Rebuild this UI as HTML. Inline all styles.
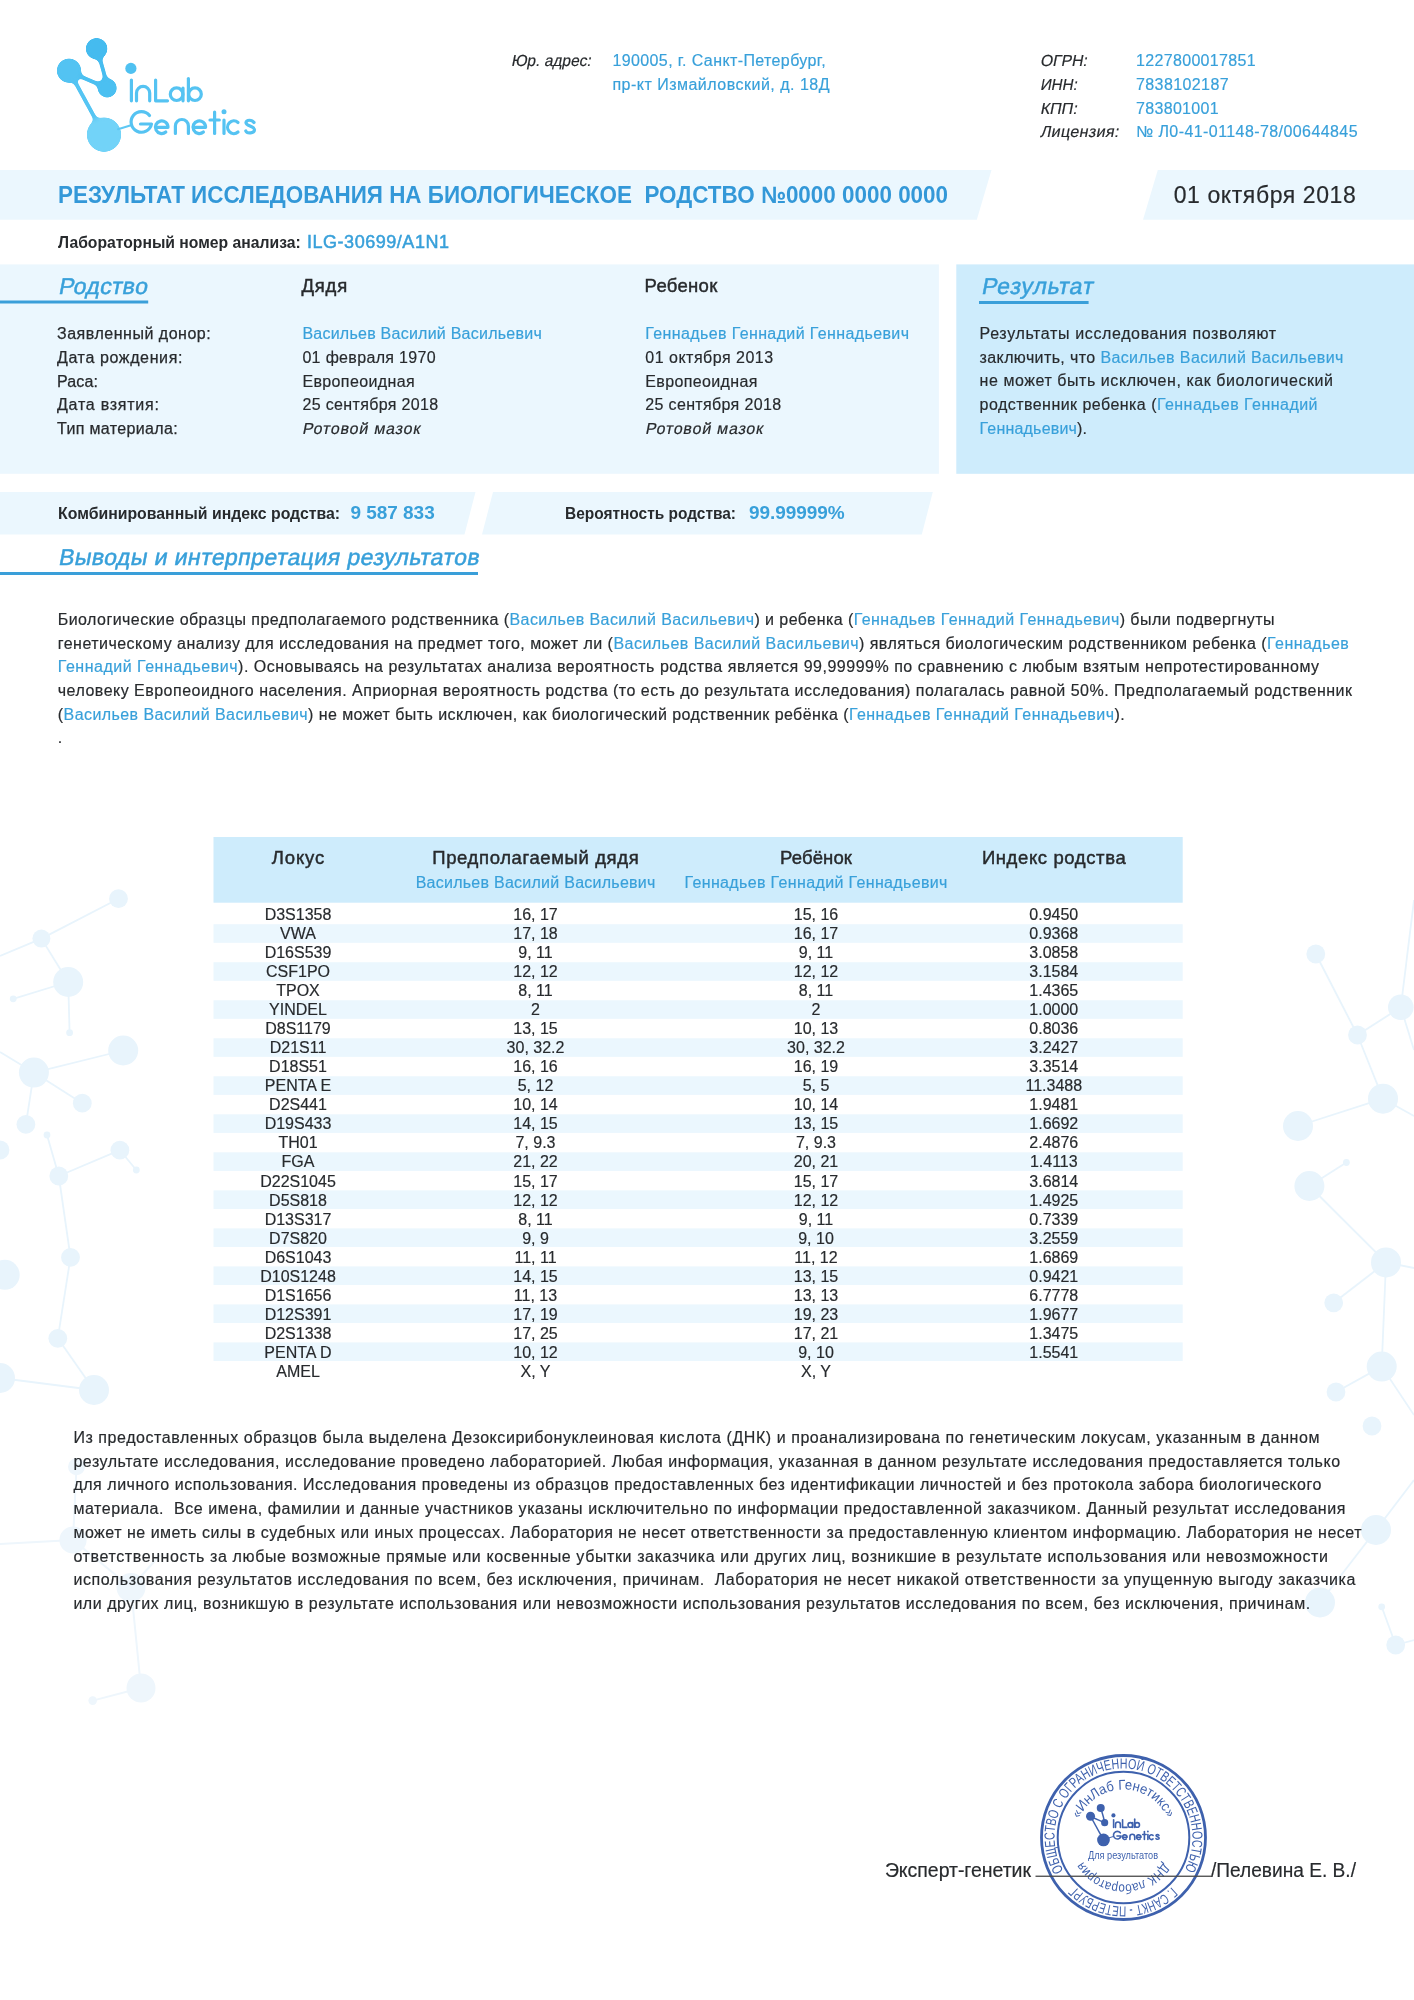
<!DOCTYPE html>
<html><head><meta charset="utf-8"><title>InLab Genetics</title>
<style>
html,body{margin:0;padding:0;background:#fff}
body{width:1414px;height:2000px;position:relative;overflow:hidden;font-family:"Liberation Sans",sans-serif}
.t{position:absolute;white-space:nowrap}
#tx{position:absolute;left:0;top:0;width:1414px;height:2000px;will-change:transform}
.b{color:#38a0da;-webkit-text-stroke-color:#38a0da}
.s{position:absolute}
</style></head><body>
<svg class="s" style="left:0;top:0" width="1414" height="2000" viewBox="0 0 1414 2000">
<!-- background molecules right -->
<g stroke="#e8f4fc" stroke-width="1.8" fill="none">
<polyline points="1315.8,954 1357.5,1035 1383,1098.7"/>
<line x1="1357.5" y1="1035" x2="1400.8" y2="1007.3"/>
<line x1="1400.8" y1="1007.3" x2="1414" y2="900"/>
<line x1="1400.8" y1="1007.3" x2="1414" y2="1050"/>
<line x1="1298" y1="1126" x2="1383" y2="1098.7"/>
<line x1="1383" y1="1098.7" x2="1414" y2="1116"/>
<line x1="1309.4" y1="1186" x2="1346.4" y2="1162.5"/>
<line x1="1309.4" y1="1186" x2="1386" y2="1262.4"/>
<line x1="1386" y1="1262.4" x2="1414" y2="1268"/>
<line x1="1333.7" y1="1302.8" x2="1386" y2="1262.4"/>
<line x1="1386" y1="1262.4" x2="1381.7" y2="1366.6"/>
<line x1="1381.7" y1="1366.6" x2="1336" y2="1392"/>
<line x1="1381.7" y1="1366.6" x2="1414" y2="1415"/>
<line x1="1376" y1="1530" x2="1414" y2="1480"/>
<line x1="1376" y1="1530" x2="1320" y2="1602.5"/>
<line x1="1381.7" y1="1606.8" x2="1395.7" y2="1645"/>
<line x1="1395.7" y1="1645" x2="1414" y2="1640"/>
</g>
<g fill="#e8f4fc">
<circle cx="1315.8" cy="954" r="9.4"/>
<circle cx="1400.8" cy="1007.3" r="12.8"/>
<circle cx="1357.5" cy="1035" r="9.4"/>
<circle cx="1383" cy="1098.7" r="15"/>
<circle cx="1298" cy="1126" r="15"/>
<circle cx="1309.4" cy="1186" r="15"/>
<circle cx="1346.4" cy="1162.5" r="3.4"/>
<circle cx="1386" cy="1262.4" r="15"/>
<circle cx="1333.7" cy="1302.8" r="9.4"/>
<circle cx="1381.7" cy="1366.6" r="15"/>
<circle cx="1336" cy="1392" r="9.4"/>
<circle cx="1372" cy="1426" r="9.4"/>
<circle cx="1376" cy="1530" r="15"/>
<circle cx="1320" cy="1602.5" r="15"/>
<circle cx="1381.7" cy="1606.8" r="3.4"/>
<circle cx="1395.7" cy="1645" r="9.4"/>
</g>
<!-- background molecules left -->
<g stroke="#e8f4fc" stroke-width="1.8" fill="none">
<line x1="118.5" y1="898.7" x2="41.4" y2="938.6"/>
<line x1="41.4" y1="938.6" x2="0" y2="956"/>
<line x1="41.4" y1="938.6" x2="68.2" y2="982"/>
<line x1="68.2" y1="982" x2="13.2" y2="998.8"/>
<line x1="68.2" y1="982" x2="69.6" y2="1032.7"/>
<line x1="123.2" y1="1050.5" x2="33.9" y2="1072.6"/>
<line x1="33.9" y1="1072.6" x2="0" y2="1052"/>
<line x1="33.9" y1="1072.6" x2="82.3" y2="1103.2"/>
<line x1="33.9" y1="1072.6" x2="25.9" y2="1124.4"/>
<line x1="47" y1="1135" x2="58.8" y2="1176"/>
<line x1="119.9" y1="1150.2" x2="58.8" y2="1176"/>
<line x1="119.9" y1="1150.2" x2="136.3" y2="1170"/>
<line x1="58.8" y1="1176" x2="70.5" y2="1257.4"/>
<line x1="70.5" y1="1257.4" x2="57.8" y2="1338.3"/>
<line x1="57.8" y1="1338.3" x2="94" y2="1390"/>
<line x1="0" y1="1378" x2="94" y2="1390"/>
</g>
<g fill="#e8f4fc">
<circle cx="118.5" cy="898.7" r="9.4"/>
<circle cx="41.4" cy="938.6" r="9"/>
<circle cx="68.2" cy="982" r="15"/>
<circle cx="13.2" cy="998.8" r="3.4"/>
<circle cx="69.6" cy="1032.7" r="3.4"/>
<circle cx="123.2" cy="1050.5" r="15"/>
<circle cx="33.9" cy="1072.6" r="15"/>
<circle cx="82.3" cy="1103.2" r="9.4"/>
<circle cx="25.9" cy="1124.4" r="9.4"/>
<circle cx="0" cy="1150" r="9.4"/>
<circle cx="47" cy="1135" r="3.4"/>
<circle cx="119.9" cy="1150.2" r="9.4"/>
<circle cx="136.3" cy="1170" r="3.4"/>
<circle cx="58.8" cy="1176" r="9.4"/>
<circle cx="70.5" cy="1257.4" r="9.4"/>
<circle cx="4.7" cy="1274.8" r="15"/>
<circle cx="57.8" cy="1338.3" r="9.4"/>
<circle cx="0" cy="1378" r="15"/>
<circle cx="94" cy="1390" r="15"/>
</g>
<g stroke="#eef6fc" stroke-width="2" fill="none">
<line x1="76.5" y1="1466.7" x2="73" y2="1540"/>
<line x1="0" y1="1544" x2="73" y2="1540"/>
<line x1="73" y1="1540" x2="131" y2="1587.5"/>
<line x1="131" y1="1587.5" x2="160" y2="1555"/>
<line x1="131" y1="1587.5" x2="141" y2="1688"/>
<line x1="141" y1="1688" x2="92.7" y2="1700.6"/>
</g>
<g fill="#eef6fc">
<circle cx="76.5" cy="1466.7" r="8.5"/>
<circle cx="73" cy="1540" r="13.6"/>
<circle cx="131" cy="1587.5" r="14.5"/>
<circle cx="141" cy="1688" r="14.5"/>
<circle cx="92.7" cy="1700.6" r="4.3"/>
</g>
<!-- logo -->
<defs><filter id="goo" x="-20%" y="-20%" width="140%" height="140%"><feGaussianBlur in="SourceGraphic" stdDeviation="2.2" result="b"/><feColorMatrix in="b" type="matrix" values="1 0 0 0 0  0 1 0 0 0  0 0 1 0 0  0 0 0 9 -3.8" result="g"/></filter></defs>
<g filter="url(#goo)">
<path d="M96.6,48.7 C100,60 104,70 107.2,88" stroke="#47bdf0" stroke-width="4" fill="none"/>
<path d="M69,70.7 C80,77 92,81 107.2,88" stroke="#4cc0f1" stroke-width="4" fill="none"/>
<line x1="69" y1="70.7" x2="104" y2="134.7" stroke="#55c5f3" stroke-width="4"/>
<circle cx="96.6" cy="48.7" r="10.8" fill="#45bbef"/>
<circle cx="69" cy="70.7" r="12.2" fill="#52c3f2"/>
<circle cx="107.2" cy="88" r="9.7" fill="#4cc0f1"/>
<circle cx="104" cy="134.7" r="17.2" fill="#72d3f8"/>
</g>
<line x1="118" y1="129.3" x2="131" y2="125.3" stroke="#5ec8f4" stroke-width="2" stroke-linecap="round"/>
<circle cx="130.9" cy="68.4" r="5.6" fill="#4fc1f1"/>
<g stroke="#55c3f2" stroke-width="3.2" stroke-linecap="round" stroke-linejoin="round" fill="none">
<!-- I -->
<line x1="131.4" y1="80" x2="131.4" y2="100.8"/>
<!-- n -->
<path d="M136.5,100.8 V93 A6.6,6.6 0 0 1 149.7,93 V100.8"/>
<!-- L -->
<path d="M155.6,80 V100.8 H167.5"/>
<!-- a -->
<circle cx="176.6" cy="94.2" r="6.3"/>
<line x1="183" y1="88" x2="183" y2="100.8"/>
<!-- b -->
<line x1="188.4" y1="78.5" x2="188.4" y2="100.8"/>
<circle cx="195" cy="94.2" r="6.3"/>
<!-- G -->
<path d="M149.5,115.5 A10.3,10.3 0 1 0 151.5,124 H140.5"/>
<!-- e -->
<path d="M155.4,127.3 H168 A6.3,6.3 0 1 0 165.8,132"/>
<!-- n -->
<path d="M175.4,133.5 V126 A6.5,6.5 0 0 1 188.4,126 V133.5"/>
<!-- e -->
<path d="M193,127.3 H205.6 A6.3,6.3 0 1 0 203.4,132"/>
<!-- t -->
<line x1="214.6" y1="112" x2="214.6" y2="133.5"/>
<line x1="210" y1="120" x2="219.3" y2="120"/>
<!-- i -->
<line x1="224" y1="120" x2="224" y2="133.5"/>
<!-- c -->
<path d="M238,122.5 A6.3,6.3 0 1 0 238,132"/>
<!-- s -->
<path d="M254,122.5 C252,119.5 246.5,119.5 246,122.5 C245.5,126 254.5,126 254.5,129.8 C254.5,133.5 247,134 245.8,131"/>
</g>
<circle cx="224" cy="111.8" r="2.5" fill="#55c3f2"/>

<defs>
<path id="sp1" d="M1071.03,1881.53 A68.5,68.5 0 1 1 1175.97,1793.47 A68.5,68.5 0 1 1 1071.03,1881.53"/>
<path id="sp2" d="M1075.50,1837.50 A48,48 0 1 1 1171.50,1837.50 A48,48 0 1 1 1075.50,1837.50"/>
<path id="sp3" d="M1170.50,1837.50 A47,47 0 1 1 1076.50,1837.50 A47,47 0 1 1 1170.50,1837.50"/>
</defs>
<g opacity="0.95">
<circle cx="1123.5" cy="1837.5" r="82" fill="none" stroke="#3459a9" stroke-width="2.8"/>
<circle cx="1123.5" cy="1837.5" r="65.8" fill="none" stroke="#3459a9" stroke-width="2"/>
<g font-family="Liberation Sans" fill="#3459a9">
<text font-size="14.5"><textPath href="#sp1" startOffset="13.15" textLength="284.54" lengthAdjust="spacingAndGlyphs">ОБЩЕСТВО С ОГРАНИЧЕННОЙ ОТВЕТСТВЕННОСТЬЮ</textPath></text>
<text font-size="14.5"><textPath href="#sp1" startOffset="319.21" textLength="107.60" lengthAdjust="spacingAndGlyphs">Г. САНКТ - ПЕТЕРБУРГ</textPath></text>
<text font-size="14"><textPath href="#sp2" startOffset="19.27" textLength="111.42" lengthAdjust="spacingAndGlyphs">«ИнЛаб Генетикс»</textPath></text>
<text font-size="13.5"><textPath href="#sp3" startOffset="26.25" textLength="95.98" lengthAdjust="spacingAndGlyphs">ДНК лаборатория</textPath></text>
<text x="1123.0" y="1859" font-size="10" font-weight="400" text-anchor="middle" textLength="70" lengthAdjust="spacingAndGlyphs">Для результатов</text>
</g>
<g transform="translate(1065,1790.1) scale(0.37)">
<!-- logo -->

<g>
<path d="M96.6,48.7 C100,60 104,70 107.2,88" stroke="#3459a9" stroke-width="4" fill="none"/>
<path d="M69,70.7 C80,77 92,81 107.2,88" stroke="#3459a9" stroke-width="4" fill="none"/>
<line x1="69" y1="70.7" x2="104" y2="134.7" stroke="#3459a9" stroke-width="4"/>
<circle cx="96.6" cy="48.7" r="10.8" fill="#3459a9"/>
<circle cx="69" cy="70.7" r="12.2" fill="#3459a9"/>
<circle cx="107.2" cy="88" r="9.7" fill="#3459a9"/>
<circle cx="104" cy="134.7" r="17.2" fill="#3459a9"/>
</g>
<line x1="118" y1="129.3" x2="131" y2="125.3" stroke="#3459a9" stroke-width="2.70" stroke-linecap="round"/>
<circle cx="130.9" cy="68.4" r="5.6" fill="#3459a9"/>
<g stroke="#3459a9" stroke-width="4.32" stroke-linecap="round" stroke-linejoin="round" fill="none">
<!-- I -->
<line x1="131.4" y1="80" x2="131.4" y2="100.8"/>
<!-- n -->
<path d="M136.5,100.8 V93 A6.6,6.6 0 0 1 149.7,93 V100.8"/>
<!-- L -->
<path d="M155.6,80 V100.8 H167.5"/>
<!-- a -->
<circle cx="176.6" cy="94.2" r="6.3"/>
<line x1="183" y1="88" x2="183" y2="100.8"/>
<!-- b -->
<line x1="188.4" y1="78.5" x2="188.4" y2="100.8"/>
<circle cx="195" cy="94.2" r="6.3"/>
<!-- G -->
<path d="M149.5,115.5 A10.3,10.3 0 1 0 151.5,124 H140.5"/>
<!-- e -->
<path d="M155.4,127.3 H168 A6.3,6.3 0 1 0 165.8,132"/>
<!-- n -->
<path d="M175.4,133.5 V126 A6.5,6.5 0 0 1 188.4,126 V133.5"/>
<!-- e -->
<path d="M193,127.3 H205.6 A6.3,6.3 0 1 0 203.4,132"/>
<!-- t -->
<line x1="214.6" y1="112" x2="214.6" y2="133.5"/>
<line x1="210" y1="120" x2="219.3" y2="120"/>
<!-- i -->
<line x1="224" y1="120" x2="224" y2="133.5"/>
<!-- c -->
<path d="M238,122.5 A6.3,6.3 0 1 0 238,132"/>
<!-- s -->
<path d="M254,122.5 C252,119.5 246.5,119.5 246,122.5 C245.5,126 254.5,126 254.5,129.8 C254.5,133.5 247,134 245.8,131"/>
</g>
<circle cx="224" cy="111.8" r="2.5" fill="#3459a9"/>

</g>
</g>
</svg>

<svg class="s" style="left:0;top:0" width="1414" height="2000" viewBox="0 0 1414 2000">
<polygon points="0,170 991.5,170 976.8,219.7 0,219.7" fill="#ebf7fe"/>
<polygon points="1157.8,170 1414,170 1414,219.7 1143,219.7" fill="#ebf7fe"/>
<rect x="0" y="264.4" width="938.9" height="209.4" fill="#ebf7fe"/>
<rect x="956.3" y="264.4" width="457.7" height="209.4" fill="#ceecfc"/>
<rect x="0" y="300.5" width="148.2" height="3" fill="#3a9fd9"/>
<rect x="979" y="301" width="109.6" height="3" fill="#3a9fd9"/>
<polygon points="0,492 475.5,492 464.5,534.6 0,534.6" fill="#ebf7fe"/>
<polygon points="493,492 932.8,492 921.8,534.6 482,534.6" fill="#ebf7fe"/>
<rect x="0" y="572" width="478" height="3" fill="#3a9fd9"/>
<rect x="213.5" y="837" width="969.2" height="65.7" fill="#ceecfc"/>

<rect x="213.5" y="924.21" width="969.2" height="18.6" fill="#ebf7fe"/>
<rect x="213.5" y="962.23" width="969.2" height="18.6" fill="#ebf7fe"/>
<rect x="213.5" y="1000.25" width="969.2" height="18.6" fill="#ebf7fe"/>
<rect x="213.5" y="1038.27" width="969.2" height="18.6" fill="#ebf7fe"/>
<rect x="213.5" y="1076.29" width="969.2" height="18.6" fill="#ebf7fe"/>
<rect x="213.5" y="1114.31" width="969.2" height="18.6" fill="#ebf7fe"/>
<rect x="213.5" y="1152.33" width="969.2" height="18.6" fill="#ebf7fe"/>
<rect x="213.5" y="1190.35" width="969.2" height="18.6" fill="#ebf7fe"/>
<rect x="213.5" y="1228.37" width="969.2" height="18.6" fill="#ebf7fe"/>
<rect x="213.5" y="1266.39" width="969.2" height="18.6" fill="#ebf7fe"/>
<rect x="213.5" y="1304.41" width="969.2" height="18.6" fill="#ebf7fe"/>
<rect x="213.5" y="1342.43" width="969.2" height="18.6" fill="#ebf7fe"/>
<rect x="1035.5" y="1875.6" width="175.5" height="1.3" fill="#4a4a4a"/>
</svg>

<div id="tx">
<div class='t' style='left:511.00px;top:53.06px;line-height:16px;transform:scaleX(0.9704) skewX(-11deg);transform-origin:0 12.64px;font-size:16px;font-weight:400;-webkit-text-stroke:0.18px #272a2d;font-style:normal;color:#272a2d;letter-spacing:0.000px;'>Юр. адрес:</div>
<div class='t' style='left:612.40px;top:53.06px;line-height:16px;font-size:16px;font-weight:400;-webkit-text-stroke:0.18px #38a0da;font-style:normal;color:#38a0da;letter-spacing:0.391px;'>190005, г. Санкт-Петербург,</div>
<div class='t' style='left:612.40px;top:76.56px;line-height:16px;font-size:16px;font-weight:400;-webkit-text-stroke:0.18px #38a0da;font-style:normal;color:#38a0da;letter-spacing:0.489px;'>пр-кт Измайловский, д. 18Д</div>
<div class='t' style='left:1040.00px;top:53.26px;line-height:16px;transform:scaleX(0.9836) skewX(-11deg);transform-origin:0 12.64px;font-size:16px;font-weight:400;-webkit-text-stroke:0.18px #272a2d;font-style:normal;color:#272a2d;letter-spacing:0.000px;'>ОГРН:</div>
<div class='t' style='left:1136.00px;top:53.26px;line-height:16px;font-size:16px;font-weight:400;-webkit-text-stroke:0.18px #38a0da;font-style:normal;color:#38a0da;letter-spacing:0.332px;'>1227800017851</div>
<div class='t' style='left:1040.00px;top:76.94px;line-height:16px;transform:scaleX(0.9472) skewX(-11deg);transform-origin:0 12.64px;font-size:16px;font-weight:400;-webkit-text-stroke:0.18px #272a2d;font-style:normal;color:#272a2d;letter-spacing:0.000px;'>ИНН:</div>
<div class='t' style='left:1136.00px;top:76.94px;line-height:16px;font-size:16px;font-weight:400;-webkit-text-stroke:0.18px #38a0da;font-style:normal;color:#38a0da;letter-spacing:0.402px;'>7838102187</div>
<div class='t' style='left:1040.00px;top:100.62px;line-height:16px;transform:skewX(-11deg);transform-origin:0 12.64px;font-size:16px;font-weight:400;-webkit-text-stroke:0.18px #272a2d;font-style:normal;color:#272a2d;letter-spacing:0.059px;'>КПП:</div>
<div class='t' style='left:1136.00px;top:100.62px;line-height:16px;font-size:16px;font-weight:400;-webkit-text-stroke:0.18px #38a0da;font-style:normal;color:#38a0da;letter-spacing:0.323px;'>783801001</div>
<div class='t' style='left:1040.00px;top:124.30px;line-height:16px;transform:skewX(-11deg);transform-origin:0 12.64px;font-size:16px;font-weight:400;-webkit-text-stroke:0.18px #272a2d;font-style:normal;color:#272a2d;letter-spacing:0.384px;'>Лицензия:</div>
<div class='t' style='left:1136.00px;top:124.30px;line-height:16px;font-size:16px;font-weight:400;-webkit-text-stroke:0.18px #38a0da;font-style:normal;color:#38a0da;letter-spacing:0.419px;'>№ Л0-41-01148-78/00644845</div>
<div class='t' style='left:58.00px;top:182.98px;line-height:24px;transform:scaleX(0.9346);transform-origin:0 19.42px;font-size:24px;font-weight:700;font-style:normal;color:#3398d8;letter-spacing:0.000px;'>РЕЗУЛЬТАТ ИССЛЕДОВАНИЯ НА БИОЛОГИЧЕСКОЕ&nbsp; РОДСТВО №0000 0000 0000</div>
<div class='t' style='left:1173.70px;top:183.73px;line-height:23px;font-size:23px;font-weight:400;-webkit-text-stroke:0.18px #272a2d;font-style:normal;color:#272a2d;letter-spacing:0.594px;'>01 октября 2018</div>
<div class='t' style='left:58.30px;top:234.66px;line-height:16px;transform:scaleX(0.9816);transform-origin:0 12.64px;font-size:16px;font-weight:700;font-style:normal;color:#272a2d;letter-spacing:0.000px;'>Лабораторный номер анализа:</div>
<div class='t' style='left:307.00px;top:232.96px;line-height:18px;font-size:18px;font-weight:400;-webkit-text-stroke:0.5px #38a0da;font-style:normal;color:#38a0da;letter-spacing:0.529px;'>ILG-30699/A1N1</div>
<div class='t' style='left:57.70px;top:275.43px;line-height:23px;transform:skewX(-11deg);transform-origin:0 18.57px;font-size:23px;font-weight:400;-webkit-text-stroke:0.5px #38a0da;font-style:normal;color:#38a0da;letter-spacing:0.325px;'>Родство</div>
<div class='t' style='left:301.50px;top:277.44px;line-height:18.5px;font-size:18.5px;font-weight:400;-webkit-text-stroke:0.45px #272a2d;font-style:normal;color:#272a2d;letter-spacing:0.785px;'>Дядя</div>
<div class='t' style='left:644.60px;top:277.44px;line-height:18.5px;font-size:18.5px;font-weight:400;-webkit-text-stroke:0.45px #272a2d;font-style:normal;color:#272a2d;letter-spacing:0.301px;'>Ребенок</div>
<div class='t' style='left:57.00px;top:326.46px;line-height:16px;font-size:16px;font-weight:400;-webkit-text-stroke:0.25px #272a2d;font-style:normal;color:#272a2d;letter-spacing:0.514px;'>Заявленный донор:</div>
<div class='t' style='left:57.00px;top:350.06px;line-height:16px;font-size:16px;font-weight:400;-webkit-text-stroke:0.25px #272a2d;font-style:normal;color:#272a2d;letter-spacing:0.621px;'>Дата рождения:</div>
<div class='t' style='left:57.00px;top:373.76px;line-height:16px;font-size:16px;font-weight:400;-webkit-text-stroke:0.25px #272a2d;font-style:normal;color:#272a2d;letter-spacing:0.142px;'>Раса:</div>
<div class='t' style='left:57.00px;top:397.46px;line-height:16px;font-size:16px;font-weight:400;-webkit-text-stroke:0.25px #272a2d;font-style:normal;color:#272a2d;letter-spacing:0.752px;'>Дата взятия:</div>
<div class='t' style='left:57.00px;top:421.16px;line-height:16px;font-size:16px;font-weight:400;-webkit-text-stroke:0.25px #272a2d;font-style:normal;color:#272a2d;letter-spacing:0.348px;'>Тип материала:</div>
<div class='t' style='left:302.40px;top:326.46px;line-height:16px;font-size:16px;font-weight:400;-webkit-text-stroke:0.18px #38a0da;font-style:normal;color:#38a0da;letter-spacing:0.243px;'>Васильев Василий Васильевич</div>
<div class='t' style='left:302.40px;top:350.06px;line-height:16px;font-size:16px;font-weight:400;-webkit-text-stroke:0.18px #272a2d;font-style:normal;color:#272a2d;letter-spacing:0.331px;'>01 февраля 1970</div>
<div class='t' style='left:302.40px;top:373.76px;line-height:16px;font-size:16px;font-weight:400;-webkit-text-stroke:0.18px #272a2d;font-style:normal;color:#272a2d;letter-spacing:0.374px;'>Европеоидная</div>
<div class='t' style='left:302.40px;top:397.46px;line-height:16px;font-size:16px;font-weight:400;-webkit-text-stroke:0.18px #272a2d;font-style:normal;color:#272a2d;letter-spacing:0.352px;'>25 сентября 2018</div>
<div class='t' style='left:302.40px;top:421.16px;line-height:16px;transform:skewX(-11deg);transform-origin:0 12.64px;font-size:16px;font-weight:400;-webkit-text-stroke:0.18px #272a2d;font-style:normal;color:#272a2d;letter-spacing:0.805px;'>Ротовой мазок</div>
<div class='t' style='left:645.30px;top:326.46px;line-height:16px;font-size:16px;font-weight:400;-webkit-text-stroke:0.18px #38a0da;font-style:normal;color:#38a0da;letter-spacing:0.380px;'>Геннадьев Геннадий Геннадьевич</div>
<div class='t' style='left:645.30px;top:350.06px;line-height:16px;font-size:16px;font-weight:400;-webkit-text-stroke:0.18px #272a2d;font-style:normal;color:#272a2d;letter-spacing:0.493px;'>01 октября 2013</div>
<div class='t' style='left:645.30px;top:373.76px;line-height:16px;font-size:16px;font-weight:400;-webkit-text-stroke:0.18px #272a2d;font-style:normal;color:#272a2d;letter-spacing:0.358px;'>Европеоидная</div>
<div class='t' style='left:645.30px;top:397.46px;line-height:16px;font-size:16px;font-weight:400;-webkit-text-stroke:0.18px #272a2d;font-style:normal;color:#272a2d;letter-spacing:0.346px;'>25 сентября 2018</div>
<div class='t' style='left:645.30px;top:421.16px;line-height:16px;transform:skewX(-11deg);transform-origin:0 12.64px;font-size:16px;font-weight:400;-webkit-text-stroke:0.18px #272a2d;font-style:normal;color:#272a2d;letter-spacing:0.782px;'>Ротовой мазок</div>
<div class='t' style='left:980.50px;top:275.43px;line-height:23px;transform:skewX(-11deg);transform-origin:0 18.57px;font-size:23px;font-weight:400;-webkit-text-stroke:0.5px #38a0da;font-style:normal;color:#38a0da;letter-spacing:0.843px;'>Результат</div>
<div class='t' style='left:979.60px;top:326.06px;line-height:16px;font-size:16px;font-weight:400;-webkit-text-stroke:0.18px #272a2d;font-style:normal;color:#272a2d;letter-spacing:0.626px;'>Результаты исследования позволяют</div>
<div class='t' style='left:979.60px;top:349.66px;line-height:16px;font-size:16px;font-weight:400;-webkit-text-stroke:0.18px #272a2d;font-style:normal;color:#272a2d;letter-spacing:0.381px;'>заключить, что <span class="b">Васильев Василий Васильевич</span></div>
<div class='t' style='left:979.60px;top:373.36px;line-height:16px;font-size:16px;font-weight:400;-webkit-text-stroke:0.18px #272a2d;font-style:normal;color:#272a2d;letter-spacing:0.553px;'>не может быть исключен, как биологический</div>
<div class='t' style='left:979.60px;top:397.06px;line-height:16px;font-size:16px;font-weight:400;-webkit-text-stroke:0.18px #272a2d;font-style:normal;color:#272a2d;letter-spacing:0.456px;'>родственник ребенка (<span class="b">Геннадьев Геннадий</span></div>
<div class='t' style='left:979.60px;top:420.76px;line-height:16px;font-size:16px;font-weight:400;-webkit-text-stroke:0.18px #272a2d;font-style:normal;color:#272a2d;letter-spacing:0.186px;'><span class="b">Геннадьевич</span>).</div>
<div class='t' style='left:57.90px;top:505.86px;line-height:16px;transform:scaleX(0.9896);transform-origin:0 12.64px;font-size:16px;font-weight:700;font-style:normal;color:#272a2d;letter-spacing:0.000px;'>Комбинированный индекс родства:</div>
<div class='t' style='left:350.40px;top:503.32px;line-height:19px;font-size:19px;font-weight:700;font-style:normal;color:#38a0da;letter-spacing:-0.026px;'>9 587 833</div>
<div class='t' style='left:565.00px;top:505.86px;line-height:16px;transform:scaleX(0.9657);transform-origin:0 12.64px;font-size:16px;font-weight:700;font-style:normal;color:#272a2d;letter-spacing:0.000px;'>Вероятность родства:</div>
<div class='t' style='left:749.00px;top:503.32px;line-height:19px;font-size:19px;font-weight:700;font-style:normal;color:#38a0da;letter-spacing:-0.062px;'>99.99999%</div>
<div class='t' style='left:57.60px;top:545.83px;line-height:23px;transform:skewX(-11deg);transform-origin:0 18.57px;font-size:23px;font-weight:400;-webkit-text-stroke:0.5px #38a0da;font-style:normal;color:#38a0da;letter-spacing:0.434px;'>Выводы и интерпретация результатов</div>
<div class='t' style='left:57.80px;top:612.16px;line-height:16px;font-size:16px;font-weight:400;-webkit-text-stroke:0.18px #272a2d;font-style:normal;color:#272a2d;letter-spacing:0.442px;'>Биологические образцы предполагаемого родственника (<span class="b">Васильев Василий Васильевич</span>) и ребенка (<span class="b">Геннадьев Геннадий Геннадьевич</span>) были подвергнуты</div>
<div class='t' style='left:57.80px;top:635.76px;line-height:16px;font-size:16px;font-weight:400;-webkit-text-stroke:0.18px #272a2d;font-style:normal;color:#272a2d;letter-spacing:0.465px;'>генетическому анализу для исследования на предмет того, может ли (<span class="b">Васильев Василий Васильевич</span>) являться биологическим родственником ребенка (<span class="b">Геннадьев</span></div>
<div class='t' style='left:57.80px;top:659.36px;line-height:16px;font-size:16px;font-weight:400;-webkit-text-stroke:0.18px #272a2d;font-style:normal;color:#272a2d;letter-spacing:0.506px;'><span class="b">Геннадий Геннадьевич</span>). Основываясь на результатах анализа вероятность родства является 99,99999% по сравнению с любым взятым непротестированному</div>
<div class='t' style='left:57.80px;top:682.96px;line-height:16px;font-size:16px;font-weight:400;-webkit-text-stroke:0.18px #272a2d;font-style:normal;color:#272a2d;letter-spacing:0.483px;'>человеку Европеоидного населения. Априорная вероятность родства (то есть до результата исследования) полагалась равной 50%. Предполагаемый родственник</div>
<div class='t' style='left:57.80px;top:706.56px;line-height:16px;font-size:16px;font-weight:400;-webkit-text-stroke:0.18px #272a2d;font-style:normal;color:#272a2d;letter-spacing:0.424px;'>(<span class="b">Васильев Василий Васильевич</span>) не может быть исключен, как биологический родственник ребёнка (<span class="b">Геннадьев Геннадий Геннадьевич</span>).</div>
<div class='t' style='left:57.80px;top:730.36px;line-height:16px;font-size:16px;font-weight:400;-webkit-text-stroke:0.18px #272a2d;font-style:normal;color:#272a2d;letter-spacing:0.000px;'>.</div>
<div class='t' style='left:73.40px;top:1429.96px;line-height:16px;font-size:16px;font-weight:400;-webkit-text-stroke:0.18px #272a2d;font-style:normal;color:#272a2d;letter-spacing:0.561px;'>Из предоставленных образцов была выделена Дезоксирибонуклеиновая кислота (ДНК) и проанализирована по генетическим локусам, указанным в данном</div>
<div class='t' style='left:73.40px;top:1453.71px;line-height:16px;font-size:16px;font-weight:400;-webkit-text-stroke:0.18px #272a2d;font-style:normal;color:#272a2d;letter-spacing:0.523px;'>результате исследования, исследование проведено лабораторией. Любая информация, указанная в данном результате исследования предоставляется только</div>
<div class='t' style='left:73.40px;top:1477.46px;line-height:16px;font-size:16px;font-weight:400;-webkit-text-stroke:0.18px #272a2d;font-style:normal;color:#272a2d;letter-spacing:0.529px;'>для личного использования. Исследования проведены из образцов предоставленных без идентификации личностей и без протокола забора биологического</div>
<div class='t' style='left:73.40px;top:1501.21px;line-height:16px;font-size:16px;font-weight:400;-webkit-text-stroke:0.18px #272a2d;font-style:normal;color:#272a2d;letter-spacing:0.562px;'>материала.&nbsp; Все имена, фамилии и данные участников указаны исключительно по информации предоставленной заказчиком. Данный результат исследования</div>
<div class='t' style='left:73.40px;top:1524.96px;line-height:16px;font-size:16px;font-weight:400;-webkit-text-stroke:0.18px #272a2d;font-style:normal;color:#272a2d;letter-spacing:0.503px;'>может не иметь силы в судебных или иных процессах. Лаборатория не несет ответственности за предоставленную клиентом информацию. Лаборатория не несет</div>
<div class='t' style='left:73.40px;top:1548.71px;line-height:16px;font-size:16px;font-weight:400;-webkit-text-stroke:0.18px #272a2d;font-style:normal;color:#272a2d;letter-spacing:0.610px;'>ответственность за любые возможные прямые или косвенные убытки заказчика или других лиц, возникшие в результате использования или невозможности</div>
<div class='t' style='left:73.40px;top:1572.46px;line-height:16px;font-size:16px;font-weight:400;-webkit-text-stroke:0.18px #272a2d;font-style:normal;color:#272a2d;letter-spacing:0.573px;'>использования результатов исследования по всем, без исключения, причинам.&nbsp; Лаборатория не несет никакой ответственности за упущенную выгоду заказчика</div>
<div class='t' style='left:73.40px;top:1596.21px;line-height:16px;font-size:16px;font-weight:400;-webkit-text-stroke:0.18px #272a2d;font-style:normal;color:#272a2d;letter-spacing:0.525px;'>или других лиц, возникшую в результате использования или невозможности использования результатов исследования по всем, без исключения, причинам.</div>
<div class='t' style='left:884.90px;top:1860.89px;line-height:19.5px;font-size:19.5px;font-weight:400;-webkit-text-stroke:0.18px #272a2d;font-style:normal;color:#272a2d;letter-spacing:-0.035px;'>Эксперт-генетик</div>
<div class='t' style='left:1211.00px;top:1860.89px;line-height:19.5px;transform:scaleX(0.9809);transform-origin:0 15.61px;font-size:19.5px;font-weight:400;-webkit-text-stroke:0.18px #272a2d;font-style:normal;color:#272a2d;letter-spacing:0.000px;'>/Пелевина Е. В./</div>
<div class='t' style='left:271.82px;top:848.74px;line-height:18.5px;font-size:18.5px;font-weight:400;-webkit-text-stroke:0.45px #272a2d;font-style:normal;color:#272a2d;letter-spacing:0.834px;'>Локус</div>
<div class='t' style='left:432.31px;top:848.74px;line-height:18.5px;font-size:18.5px;font-weight:400;-webkit-text-stroke:0.45px #272a2d;font-style:normal;color:#272a2d;letter-spacing:0.617px;'>Предполагаемый дядя</div>
<div class='t' style='left:780.06px;top:848.74px;line-height:18.5px;font-size:18.5px;font-weight:400;-webkit-text-stroke:0.45px #272a2d;font-style:normal;color:#272a2d;letter-spacing:0.129px;'>Ребёнок</div>
<div class='t' style='left:981.90px;top:848.74px;line-height:18.5px;font-size:18.5px;font-weight:400;-webkit-text-stroke:0.45px #272a2d;font-style:normal;color:#272a2d;letter-spacing:0.608px;'>Индекс родства</div>
<div class='t' style='left:415.63px;top:875.46px;line-height:16px;font-size:16px;font-weight:400;-webkit-text-stroke:0.18px #38a0da;font-style:normal;color:#38a0da;letter-spacing:0.258px;'>Васильев Василий Васильевич</div>
<div class='t' style='left:684.53px;top:875.46px;line-height:16px;font-size:16px;font-weight:400;-webkit-text-stroke:0.18px #38a0da;font-style:normal;color:#38a0da;letter-spacing:0.353px;'>Геннадьев Геннадий Геннадьевич</div>
<div class='t' style='left:264.64px;top:907.36px;line-height:16px;font-size:16px;font-weight:400;-webkit-text-stroke:0.18px #272a2d;font-style:normal;color:#272a2d;letter-spacing:0.000px;'>D3S1358</div>
<div class='t' style='left:513.26px;top:907.36px;line-height:16px;font-size:16px;font-weight:400;-webkit-text-stroke:0.18px #272a2d;font-style:normal;color:#272a2d;letter-spacing:0.000px;'>16, 17</div>
<div class='t' style='left:793.76px;top:907.36px;line-height:16px;font-size:16px;font-weight:400;-webkit-text-stroke:0.18px #272a2d;font-style:normal;color:#272a2d;letter-spacing:0.000px;'>15, 16</div>
<div class='t' style='left:1029.33px;top:907.36px;line-height:16px;font-size:16px;font-weight:400;-webkit-text-stroke:0.18px #272a2d;font-style:normal;color:#272a2d;letter-spacing:0.000px;'>0.9450</div>
<div class='t' style='left:280.07px;top:926.37px;line-height:16px;font-size:16px;font-weight:400;-webkit-text-stroke:0.18px #272a2d;font-style:normal;color:#272a2d;letter-spacing:0.000px;'>VWA</div>
<div class='t' style='left:513.26px;top:926.37px;line-height:16px;font-size:16px;font-weight:400;-webkit-text-stroke:0.18px #272a2d;font-style:normal;color:#272a2d;letter-spacing:0.000px;'>17, 18</div>
<div class='t' style='left:793.76px;top:926.37px;line-height:16px;font-size:16px;font-weight:400;-webkit-text-stroke:0.18px #272a2d;font-style:normal;color:#272a2d;letter-spacing:0.000px;'>16, 17</div>
<div class='t' style='left:1029.33px;top:926.37px;line-height:16px;font-size:16px;font-weight:400;-webkit-text-stroke:0.18px #272a2d;font-style:normal;color:#272a2d;letter-spacing:0.000px;'>0.9368</div>
<div class='t' style='left:264.64px;top:945.38px;line-height:16px;font-size:16px;font-weight:400;-webkit-text-stroke:0.18px #272a2d;font-style:normal;color:#272a2d;letter-spacing:0.000px;'>D16S539</div>
<div class='t' style='left:518.30px;top:945.38px;line-height:16px;font-size:16px;font-weight:400;-webkit-text-stroke:0.18px #272a2d;font-style:normal;color:#272a2d;letter-spacing:0.000px;'>9, 11</div>
<div class='t' style='left:798.80px;top:945.38px;line-height:16px;font-size:16px;font-weight:400;-webkit-text-stroke:0.18px #272a2d;font-style:normal;color:#272a2d;letter-spacing:0.000px;'>9, 11</div>
<div class='t' style='left:1029.33px;top:945.38px;line-height:16px;font-size:16px;font-weight:400;-webkit-text-stroke:0.18px #272a2d;font-style:normal;color:#272a2d;letter-spacing:0.000px;'>3.0858</div>
<div class='t' style='left:265.99px;top:964.39px;line-height:16px;font-size:16px;font-weight:400;-webkit-text-stroke:0.18px #272a2d;font-style:normal;color:#272a2d;letter-spacing:0.000px;'>CSF1PO</div>
<div class='t' style='left:513.26px;top:964.39px;line-height:16px;font-size:16px;font-weight:400;-webkit-text-stroke:0.18px #272a2d;font-style:normal;color:#272a2d;letter-spacing:0.000px;'>12, 12</div>
<div class='t' style='left:793.76px;top:964.39px;line-height:16px;font-size:16px;font-weight:400;-webkit-text-stroke:0.18px #272a2d;font-style:normal;color:#272a2d;letter-spacing:0.000px;'>12, 12</div>
<div class='t' style='left:1029.33px;top:964.39px;line-height:16px;font-size:16px;font-weight:400;-webkit-text-stroke:0.18px #272a2d;font-style:normal;color:#272a2d;letter-spacing:0.000px;'>3.1584</div>
<div class='t' style='left:276.22px;top:983.40px;line-height:16px;font-size:16px;font-weight:400;-webkit-text-stroke:0.18px #272a2d;font-style:normal;color:#272a2d;letter-spacing:0.000px;'>TPOX</div>
<div class='t' style='left:518.30px;top:983.40px;line-height:16px;font-size:16px;font-weight:400;-webkit-text-stroke:0.18px #272a2d;font-style:normal;color:#272a2d;letter-spacing:0.000px;'>8, 11</div>
<div class='t' style='left:798.80px;top:983.40px;line-height:16px;font-size:16px;font-weight:400;-webkit-text-stroke:0.18px #272a2d;font-style:normal;color:#272a2d;letter-spacing:0.000px;'>8, 11</div>
<div class='t' style='left:1029.33px;top:983.40px;line-height:16px;font-size:16px;font-weight:400;-webkit-text-stroke:0.18px #272a2d;font-style:normal;color:#272a2d;letter-spacing:0.000px;'>1.4365</div>
<div class='t' style='left:269.10px;top:1002.41px;line-height:16px;font-size:16px;font-weight:400;-webkit-text-stroke:0.18px #272a2d;font-style:normal;color:#272a2d;letter-spacing:0.000px;'>YINDEL</div>
<div class='t' style='left:531.05px;top:1002.41px;line-height:16px;font-size:16px;font-weight:400;-webkit-text-stroke:0.18px #272a2d;font-style:normal;color:#272a2d;letter-spacing:0.000px;'>2</div>
<div class='t' style='left:811.55px;top:1002.41px;line-height:16px;font-size:16px;font-weight:400;-webkit-text-stroke:0.18px #272a2d;font-style:normal;color:#272a2d;letter-spacing:0.000px;'>2</div>
<div class='t' style='left:1029.33px;top:1002.41px;line-height:16px;font-size:16px;font-weight:400;-webkit-text-stroke:0.18px #272a2d;font-style:normal;color:#272a2d;letter-spacing:0.000px;'>1.0000</div>
<div class='t' style='left:265.23px;top:1021.42px;line-height:16px;font-size:16px;font-weight:400;-webkit-text-stroke:0.18px #272a2d;font-style:normal;color:#272a2d;letter-spacing:0.000px;'>D8S1179</div>
<div class='t' style='left:513.26px;top:1021.42px;line-height:16px;font-size:16px;font-weight:400;-webkit-text-stroke:0.18px #272a2d;font-style:normal;color:#272a2d;letter-spacing:0.000px;'>13, 15</div>
<div class='t' style='left:793.76px;top:1021.42px;line-height:16px;font-size:16px;font-weight:400;-webkit-text-stroke:0.18px #272a2d;font-style:normal;color:#272a2d;letter-spacing:0.000px;'>10, 13</div>
<div class='t' style='left:1029.33px;top:1021.42px;line-height:16px;font-size:16px;font-weight:400;-webkit-text-stroke:0.18px #272a2d;font-style:normal;color:#272a2d;letter-spacing:0.000px;'>0.8036</div>
<div class='t' style='left:269.68px;top:1040.43px;line-height:16px;font-size:16px;font-weight:400;-webkit-text-stroke:0.18px #272a2d;font-style:normal;color:#272a2d;letter-spacing:0.000px;'>D21S11</div>
<div class='t' style='left:506.59px;top:1040.43px;line-height:16px;font-size:16px;font-weight:400;-webkit-text-stroke:0.18px #272a2d;font-style:normal;color:#272a2d;letter-spacing:0.000px;'>30, 32.2</div>
<div class='t' style='left:787.09px;top:1040.43px;line-height:16px;font-size:16px;font-weight:400;-webkit-text-stroke:0.18px #272a2d;font-style:normal;color:#272a2d;letter-spacing:0.000px;'>30, 32.2</div>
<div class='t' style='left:1029.33px;top:1040.43px;line-height:16px;font-size:16px;font-weight:400;-webkit-text-stroke:0.18px #272a2d;font-style:normal;color:#272a2d;letter-spacing:0.000px;'>3.2427</div>
<div class='t' style='left:269.09px;top:1059.44px;line-height:16px;font-size:16px;font-weight:400;-webkit-text-stroke:0.18px #272a2d;font-style:normal;color:#272a2d;letter-spacing:0.000px;'>D18S51</div>
<div class='t' style='left:513.26px;top:1059.44px;line-height:16px;font-size:16px;font-weight:400;-webkit-text-stroke:0.18px #272a2d;font-style:normal;color:#272a2d;letter-spacing:0.000px;'>16, 16</div>
<div class='t' style='left:793.76px;top:1059.44px;line-height:16px;font-size:16px;font-weight:400;-webkit-text-stroke:0.18px #272a2d;font-style:normal;color:#272a2d;letter-spacing:0.000px;'>16, 19</div>
<div class='t' style='left:1029.33px;top:1059.44px;line-height:16px;font-size:16px;font-weight:400;-webkit-text-stroke:0.18px #272a2d;font-style:normal;color:#272a2d;letter-spacing:0.000px;'>3.3514</div>
<div class='t' style='left:264.80px;top:1078.45px;line-height:16px;font-size:16px;font-weight:400;-webkit-text-stroke:0.18px #272a2d;font-style:normal;color:#272a2d;letter-spacing:0.000px;'>PENTA E</div>
<div class='t' style='left:517.70px;top:1078.45px;line-height:16px;font-size:16px;font-weight:400;-webkit-text-stroke:0.18px #272a2d;font-style:normal;color:#272a2d;letter-spacing:0.000px;'>5, 12</div>
<div class='t' style='left:802.66px;top:1078.45px;line-height:16px;font-size:16px;font-weight:400;-webkit-text-stroke:0.18px #272a2d;font-style:normal;color:#272a2d;letter-spacing:0.000px;'>5, 5</div>
<div class='t' style='left:1025.47px;top:1078.45px;line-height:16px;font-size:16px;font-weight:400;-webkit-text-stroke:0.18px #272a2d;font-style:normal;color:#272a2d;letter-spacing:0.000px;'>11.3488</div>
<div class='t' style='left:269.09px;top:1097.46px;line-height:16px;font-size:16px;font-weight:400;-webkit-text-stroke:0.18px #272a2d;font-style:normal;color:#272a2d;letter-spacing:0.000px;'>D2S441</div>
<div class='t' style='left:513.26px;top:1097.46px;line-height:16px;font-size:16px;font-weight:400;-webkit-text-stroke:0.18px #272a2d;font-style:normal;color:#272a2d;letter-spacing:0.000px;'>10, 14</div>
<div class='t' style='left:793.76px;top:1097.46px;line-height:16px;font-size:16px;font-weight:400;-webkit-text-stroke:0.18px #272a2d;font-style:normal;color:#272a2d;letter-spacing:0.000px;'>10, 14</div>
<div class='t' style='left:1029.33px;top:1097.46px;line-height:16px;font-size:16px;font-weight:400;-webkit-text-stroke:0.18px #272a2d;font-style:normal;color:#272a2d;letter-spacing:0.000px;'>1.9481</div>
<div class='t' style='left:264.64px;top:1116.47px;line-height:16px;font-size:16px;font-weight:400;-webkit-text-stroke:0.18px #272a2d;font-style:normal;color:#272a2d;letter-spacing:0.000px;'>D19S433</div>
<div class='t' style='left:513.26px;top:1116.47px;line-height:16px;font-size:16px;font-weight:400;-webkit-text-stroke:0.18px #272a2d;font-style:normal;color:#272a2d;letter-spacing:0.000px;'>14, 15</div>
<div class='t' style='left:793.76px;top:1116.47px;line-height:16px;font-size:16px;font-weight:400;-webkit-text-stroke:0.18px #272a2d;font-style:normal;color:#272a2d;letter-spacing:0.000px;'>13, 15</div>
<div class='t' style='left:1029.33px;top:1116.47px;line-height:16px;font-size:16px;font-weight:400;-webkit-text-stroke:0.18px #272a2d;font-style:normal;color:#272a2d;letter-spacing:0.000px;'>1.6692</div>
<div class='t' style='left:278.44px;top:1135.48px;line-height:16px;font-size:16px;font-weight:400;-webkit-text-stroke:0.18px #272a2d;font-style:normal;color:#272a2d;letter-spacing:0.000px;'>TH01</div>
<div class='t' style='left:515.48px;top:1135.48px;line-height:16px;font-size:16px;font-weight:400;-webkit-text-stroke:0.18px #272a2d;font-style:normal;color:#272a2d;letter-spacing:0.000px;'>7, 9.3</div>
<div class='t' style='left:795.98px;top:1135.48px;line-height:16px;font-size:16px;font-weight:400;-webkit-text-stroke:0.18px #272a2d;font-style:normal;color:#272a2d;letter-spacing:0.000px;'>7, 9.3</div>
<div class='t' style='left:1029.33px;top:1135.48px;line-height:16px;font-size:16px;font-weight:400;-webkit-text-stroke:0.18px #272a2d;font-style:normal;color:#272a2d;letter-spacing:0.000px;'>2.4876</div>
<div class='t' style='left:281.55px;top:1154.49px;line-height:16px;font-size:16px;font-weight:400;-webkit-text-stroke:0.18px #272a2d;font-style:normal;color:#272a2d;letter-spacing:0.000px;'>FGA</div>
<div class='t' style='left:513.26px;top:1154.49px;line-height:16px;font-size:16px;font-weight:400;-webkit-text-stroke:0.18px #272a2d;font-style:normal;color:#272a2d;letter-spacing:0.000px;'>21, 22</div>
<div class='t' style='left:793.76px;top:1154.49px;line-height:16px;font-size:16px;font-weight:400;-webkit-text-stroke:0.18px #272a2d;font-style:normal;color:#272a2d;letter-spacing:0.000px;'>20, 21</div>
<div class='t' style='left:1029.92px;top:1154.49px;line-height:16px;font-size:16px;font-weight:400;-webkit-text-stroke:0.18px #272a2d;font-style:normal;color:#272a2d;letter-spacing:0.000px;'>1.4113</div>
<div class='t' style='left:260.19px;top:1173.50px;line-height:16px;font-size:16px;font-weight:400;-webkit-text-stroke:0.18px #272a2d;font-style:normal;color:#272a2d;letter-spacing:0.000px;'>D22S1045</div>
<div class='t' style='left:513.26px;top:1173.50px;line-height:16px;font-size:16px;font-weight:400;-webkit-text-stroke:0.18px #272a2d;font-style:normal;color:#272a2d;letter-spacing:0.000px;'>15, 17</div>
<div class='t' style='left:793.76px;top:1173.50px;line-height:16px;font-size:16px;font-weight:400;-webkit-text-stroke:0.18px #272a2d;font-style:normal;color:#272a2d;letter-spacing:0.000px;'>15, 17</div>
<div class='t' style='left:1029.33px;top:1173.50px;line-height:16px;font-size:16px;font-weight:400;-webkit-text-stroke:0.18px #272a2d;font-style:normal;color:#272a2d;letter-spacing:0.000px;'>3.6814</div>
<div class='t' style='left:269.09px;top:1192.51px;line-height:16px;font-size:16px;font-weight:400;-webkit-text-stroke:0.18px #272a2d;font-style:normal;color:#272a2d;letter-spacing:0.000px;'>D5S818</div>
<div class='t' style='left:513.26px;top:1192.51px;line-height:16px;font-size:16px;font-weight:400;-webkit-text-stroke:0.18px #272a2d;font-style:normal;color:#272a2d;letter-spacing:0.000px;'>12, 12</div>
<div class='t' style='left:793.76px;top:1192.51px;line-height:16px;font-size:16px;font-weight:400;-webkit-text-stroke:0.18px #272a2d;font-style:normal;color:#272a2d;letter-spacing:0.000px;'>12, 12</div>
<div class='t' style='left:1029.33px;top:1192.51px;line-height:16px;font-size:16px;font-weight:400;-webkit-text-stroke:0.18px #272a2d;font-style:normal;color:#272a2d;letter-spacing:0.000px;'>1.4925</div>
<div class='t' style='left:264.64px;top:1211.52px;line-height:16px;font-size:16px;font-weight:400;-webkit-text-stroke:0.18px #272a2d;font-style:normal;color:#272a2d;letter-spacing:0.000px;'>D13S317</div>
<div class='t' style='left:518.30px;top:1211.52px;line-height:16px;font-size:16px;font-weight:400;-webkit-text-stroke:0.18px #272a2d;font-style:normal;color:#272a2d;letter-spacing:0.000px;'>8, 11</div>
<div class='t' style='left:798.80px;top:1211.52px;line-height:16px;font-size:16px;font-weight:400;-webkit-text-stroke:0.18px #272a2d;font-style:normal;color:#272a2d;letter-spacing:0.000px;'>9, 11</div>
<div class='t' style='left:1029.33px;top:1211.52px;line-height:16px;font-size:16px;font-weight:400;-webkit-text-stroke:0.18px #272a2d;font-style:normal;color:#272a2d;letter-spacing:0.000px;'>0.7339</div>
<div class='t' style='left:269.09px;top:1230.53px;line-height:16px;font-size:16px;font-weight:400;-webkit-text-stroke:0.18px #272a2d;font-style:normal;color:#272a2d;letter-spacing:0.000px;'>D7S820</div>
<div class='t' style='left:522.16px;top:1230.53px;line-height:16px;font-size:16px;font-weight:400;-webkit-text-stroke:0.18px #272a2d;font-style:normal;color:#272a2d;letter-spacing:0.000px;'>9, 9</div>
<div class='t' style='left:798.20px;top:1230.53px;line-height:16px;font-size:16px;font-weight:400;-webkit-text-stroke:0.18px #272a2d;font-style:normal;color:#272a2d;letter-spacing:0.000px;'>9, 10</div>
<div class='t' style='left:1029.33px;top:1230.53px;line-height:16px;font-size:16px;font-weight:400;-webkit-text-stroke:0.18px #272a2d;font-style:normal;color:#272a2d;letter-spacing:0.000px;'>3.2559</div>
<div class='t' style='left:264.64px;top:1249.54px;line-height:16px;font-size:16px;font-weight:400;-webkit-text-stroke:0.18px #272a2d;font-style:normal;color:#272a2d;letter-spacing:0.000px;'>D6S1043</div>
<div class='t' style='left:514.45px;top:1249.54px;line-height:16px;font-size:16px;font-weight:400;-webkit-text-stroke:0.18px #272a2d;font-style:normal;color:#272a2d;letter-spacing:0.000px;'>11, 11</div>
<div class='t' style='left:794.35px;top:1249.54px;line-height:16px;font-size:16px;font-weight:400;-webkit-text-stroke:0.18px #272a2d;font-style:normal;color:#272a2d;letter-spacing:0.000px;'>11, 12</div>
<div class='t' style='left:1029.33px;top:1249.54px;line-height:16px;font-size:16px;font-weight:400;-webkit-text-stroke:0.18px #272a2d;font-style:normal;color:#272a2d;letter-spacing:0.000px;'>1.6869</div>
<div class='t' style='left:260.19px;top:1268.55px;line-height:16px;font-size:16px;font-weight:400;-webkit-text-stroke:0.18px #272a2d;font-style:normal;color:#272a2d;letter-spacing:0.000px;'>D10S1248</div>
<div class='t' style='left:513.26px;top:1268.55px;line-height:16px;font-size:16px;font-weight:400;-webkit-text-stroke:0.18px #272a2d;font-style:normal;color:#272a2d;letter-spacing:0.000px;'>14, 15</div>
<div class='t' style='left:793.76px;top:1268.55px;line-height:16px;font-size:16px;font-weight:400;-webkit-text-stroke:0.18px #272a2d;font-style:normal;color:#272a2d;letter-spacing:0.000px;'>13, 15</div>
<div class='t' style='left:1029.33px;top:1268.55px;line-height:16px;font-size:16px;font-weight:400;-webkit-text-stroke:0.18px #272a2d;font-style:normal;color:#272a2d;letter-spacing:0.000px;'>0.9421</div>
<div class='t' style='left:264.64px;top:1287.56px;line-height:16px;font-size:16px;font-weight:400;-webkit-text-stroke:0.18px #272a2d;font-style:normal;color:#272a2d;letter-spacing:0.000px;'>D1S1656</div>
<div class='t' style='left:513.85px;top:1287.56px;line-height:16px;font-size:16px;font-weight:400;-webkit-text-stroke:0.18px #272a2d;font-style:normal;color:#272a2d;letter-spacing:0.000px;'>11, 13</div>
<div class='t' style='left:793.76px;top:1287.56px;line-height:16px;font-size:16px;font-weight:400;-webkit-text-stroke:0.18px #272a2d;font-style:normal;color:#272a2d;letter-spacing:0.000px;'>13, 13</div>
<div class='t' style='left:1029.33px;top:1287.56px;line-height:16px;font-size:16px;font-weight:400;-webkit-text-stroke:0.18px #272a2d;font-style:normal;color:#272a2d;letter-spacing:0.000px;'>6.7778</div>
<div class='t' style='left:264.64px;top:1306.57px;line-height:16px;font-size:16px;font-weight:400;-webkit-text-stroke:0.18px #272a2d;font-style:normal;color:#272a2d;letter-spacing:0.000px;'>D12S391</div>
<div class='t' style='left:513.26px;top:1306.57px;line-height:16px;font-size:16px;font-weight:400;-webkit-text-stroke:0.18px #272a2d;font-style:normal;color:#272a2d;letter-spacing:0.000px;'>17, 19</div>
<div class='t' style='left:793.76px;top:1306.57px;line-height:16px;font-size:16px;font-weight:400;-webkit-text-stroke:0.18px #272a2d;font-style:normal;color:#272a2d;letter-spacing:0.000px;'>19, 23</div>
<div class='t' style='left:1029.33px;top:1306.57px;line-height:16px;font-size:16px;font-weight:400;-webkit-text-stroke:0.18px #272a2d;font-style:normal;color:#272a2d;letter-spacing:0.000px;'>1.9677</div>
<div class='t' style='left:264.64px;top:1325.58px;line-height:16px;font-size:16px;font-weight:400;-webkit-text-stroke:0.18px #272a2d;font-style:normal;color:#272a2d;letter-spacing:0.000px;'>D2S1338</div>
<div class='t' style='left:513.26px;top:1325.58px;line-height:16px;font-size:16px;font-weight:400;-webkit-text-stroke:0.18px #272a2d;font-style:normal;color:#272a2d;letter-spacing:0.000px;'>17, 25</div>
<div class='t' style='left:793.76px;top:1325.58px;line-height:16px;font-size:16px;font-weight:400;-webkit-text-stroke:0.18px #272a2d;font-style:normal;color:#272a2d;letter-spacing:0.000px;'>17, 21</div>
<div class='t' style='left:1029.33px;top:1325.58px;line-height:16px;font-size:16px;font-weight:400;-webkit-text-stroke:0.18px #272a2d;font-style:normal;color:#272a2d;letter-spacing:0.000px;'>1.3475</div>
<div class='t' style='left:264.36px;top:1344.59px;line-height:16px;font-size:16px;font-weight:400;-webkit-text-stroke:0.18px #272a2d;font-style:normal;color:#272a2d;letter-spacing:0.000px;'>PENTA D</div>
<div class='t' style='left:513.26px;top:1344.59px;line-height:16px;font-size:16px;font-weight:400;-webkit-text-stroke:0.18px #272a2d;font-style:normal;color:#272a2d;letter-spacing:0.000px;'>10, 12</div>
<div class='t' style='left:798.20px;top:1344.59px;line-height:16px;font-size:16px;font-weight:400;-webkit-text-stroke:0.18px #272a2d;font-style:normal;color:#272a2d;letter-spacing:0.000px;'>9, 10</div>
<div class='t' style='left:1029.33px;top:1344.59px;line-height:16px;font-size:16px;font-weight:400;-webkit-text-stroke:0.18px #272a2d;font-style:normal;color:#272a2d;letter-spacing:0.000px;'>1.5541</div>
<div class='t' style='left:276.21px;top:1363.60px;line-height:16px;font-size:16px;font-weight:400;-webkit-text-stroke:0.18px #272a2d;font-style:normal;color:#272a2d;letter-spacing:0.000px;'>AMEL</div>
<div class='t' style='left:520.52px;top:1363.60px;line-height:16px;font-size:16px;font-weight:400;-webkit-text-stroke:0.18px #272a2d;font-style:normal;color:#272a2d;letter-spacing:0.000px;'>X, Y</div>
<div class='t' style='left:801.02px;top:1363.60px;line-height:16px;font-size:16px;font-weight:400;-webkit-text-stroke:0.18px #272a2d;font-style:normal;color:#272a2d;letter-spacing:0.000px;'>X, Y</div>
</div>
</body></html>
